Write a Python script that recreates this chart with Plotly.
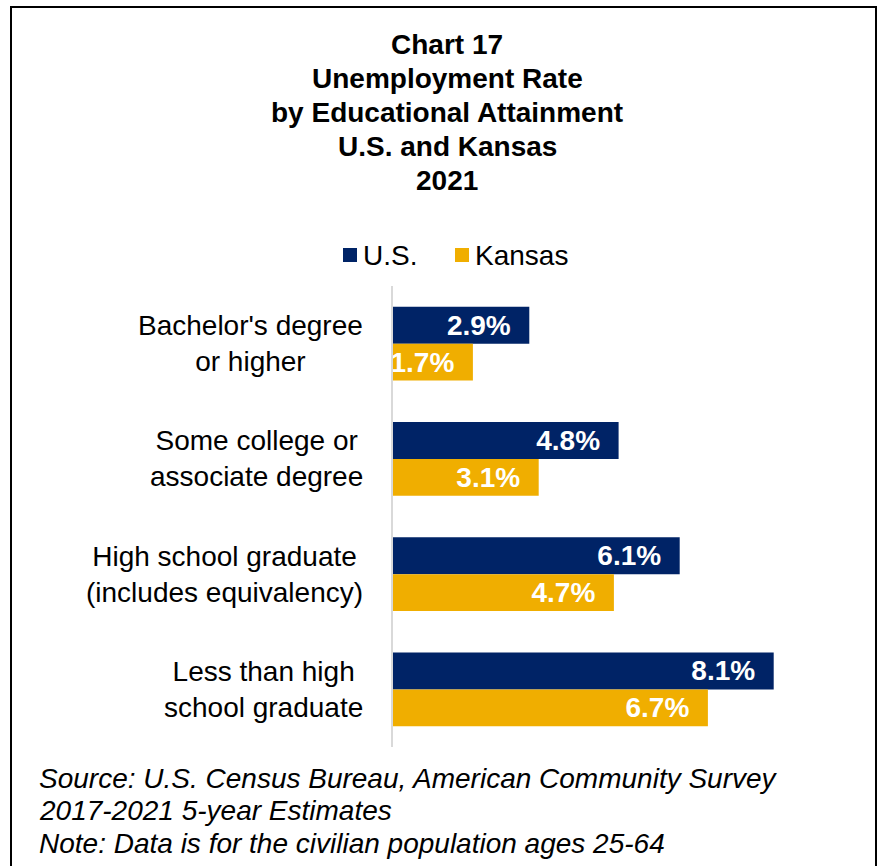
import plotly.graph_objects as go

# Educational attainment groups (top to bottom)
categories = [
    "Bachelor's degree<br>or higher",
    "Some college or<br>associate degree",
    "High school graduate<br>(includes equivalency)",
    "Less than high<br>school graduate",
]
us_rate = [2.9, 4.8, 6.1, 8.1]
kansas_rate = [1.7, 3.1, 4.7, 6.7]
series_names = ["U.S.", "Kansas"]

title_lines = [
    "Chart 17",
    "Unemployment Rate",
    "by Educational Attainment",
    "U.S. and Kansas",
    "2021",
]
source_lines = [
    "Source: U.S. Census Bureau, American Community Survey",
    "2017-2021 5-year Estimates",
    "Note: Data is for the civilian population ages 25-64",
]

NAVY = "#002366"
GOLD = "#F0AE00"
FONT = "Liberation Sans, Arial, sans-serif"
FS = 28

W, H = 880, 866
L, R, T, B = 393, 17, 286, 119
PW, PH = W - L - R, H - T - B


def px_x(px):
    return (px - L) / PW


def px_y(py):
    return (H - B - py) / PH


PAD = "\u00a0\u00a0"

fig = go.Figure()
for name, vals, color in [(series_names[0], us_rate, NAVY),
                          (series_names[1], kansas_rate, GOLD)]:
    fig.add_trace(go.Bar(
        name=name, y=categories, x=vals, orientation="h",
        marker=dict(color=color, line=dict(width=0)),
        text=[f"{v:.1f}%{PAD}" for v in vals],
        textposition="inside", insidetextanchor="end", constraintext="none",
        textfont=dict(color="white", size=FS, family=FONT, weight="bold"),
        hoverinfo="skip", showlegend=False,
    ))

annotations = []
shapes = []

# Category labels: centred lines in a right-aligned block
for c in categories:
    annotations.append(dict(
        xref="paper", yref="y", x=0, y=c, xanchor="right", yanchor="middle",
        xshift=-28, text=c, showarrow=False, align="center",
        font=dict(size=FS, family=FONT, color="black"),
    ))

# Legend: coloured square followed by series name
legend_items = [(series_names[0], NAVY, 343), (series_names[1], GOLD, 455)]
for name, color, x0 in legend_items:
    shapes.append(dict(
        type="rect", xref="paper", yref="paper",
        x0=px_x(x0), x1=px_x(x0 + 14), y0=px_y(262), y1=px_y(248),
        fillcolor=color, line=dict(width=0),
    ))
    annotations.append(dict(
        xref="paper", yref="paper", x=px_x(x0 + 18), y=px_y(255),
        xanchor="left", yanchor="middle", text=name, showarrow=False,
        font=dict(size=FS, family=FONT, color="black"),
    ))

# Source notes
for i, line in enumerate(source_lines):
    annotations.append(dict(
        xref="paper", yref="paper", x=px_x(37), y=px_y(778 + 32.5 * i),
        xanchor="left", yanchor="middle", text=f"<i>{line}</i>",
        showarrow=False, font=dict(size=FS, family=FONT, color="black"),
    ))

# Title lines
for i, line in enumerate(title_lines):
    annotations.append(dict(
        xref="paper", yref="paper", x=px_x(447), y=px_y(45 + 33.75 * i),
        xanchor="center", yanchor="middle", text=f"<b>{line}</b>",
        showarrow=False, font=dict(size=FS, family=FONT, color="black"),
    ))

# Outer frame
shapes.append(dict(
    type="rect", xref="paper", yref="paper",
    x0=px_x(11), x1=px_x(876), y0=px_y(880), y1=px_y(7),
    line=dict(color="black", width=2), fillcolor="rgba(0,0,0,0)",
))

fig.update_layout(
    width=W, height=H,
    margin=dict(l=L, r=R, t=T, b=B, pad=0),
    paper_bgcolor="white", plot_bgcolor="white",
    barmode="group", bargap=0.358, bargroupgap=0,
    uniformtext=dict(minsize=FS, mode="show"),
    font=dict(family=FONT, size=FS, color="black"),
    showlegend=False,
    xaxis=dict(range=[0, 10], visible=False, fixedrange=True),
    yaxis=dict(
        autorange="reversed", showticklabels=False, ticks="",
        showgrid=False, zeroline=False, showline=True,
        linecolor="#D9D9D9", linewidth=2, fixedrange=True,
    ),
    annotations=annotations,
    shapes=shapes,
)

fig.write_html("out.html")
